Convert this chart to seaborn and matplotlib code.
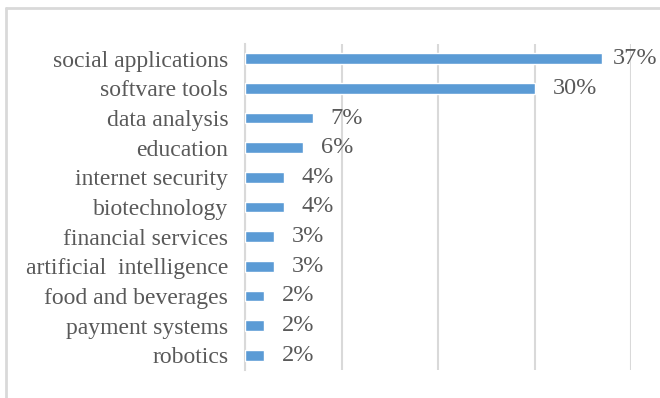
import matplotlib
matplotlib.use("Agg")
import matplotlib.pyplot as plt
import seaborn as sns
import pandas as pd
from matplotlib.lines import Line2D
from matplotlib.transforms import offset_copy

categories = ["social applications", "softvare tools", "data analysis", "education",
              "internet security", "biotechnology", "financial services",
              "artificial  intelligence", "food and beverages", "payment systems", "robotics"]
values = [37, 30, 7, 6, 4, 4, 3, 3, 2, 2, 2]
labels = ["37%", "30%", "7%", "6%", "4%", "4%", "3%", "3%", "2%", "2%", "2%"]

df = pd.DataFrame({"category": categories, "value": values})

sns.set_style("white")
plt.rcParams['font.family'] = ['Liberation Serif', 'DejaVu Serif']

fig = plt.figure(figsize=(6.6, 3.98), dpi=100)
ax = fig.add_axes([245/660, 1-370/398, (631-245)/660, (370-44)/398])

sns.barplot(data=df, y="category", x="value", orient="h", color="#5b9bd5",
            width=0.36, saturation=1, ax=ax, zorder=3)

ax.set_xlim(0, 40)
ax.set_xticks([0, 10, 20, 30, 40])
ax.set_xticklabels([])
ax.grid(axis="x", color="#d9d9d9", linewidth=1.5, zorder=0)
ax.tick_params(axis="both", length=0)
ax.tick_params(axis="y", labelsize=17, labelcolor="#595959", pad=12)
for s in ["top", "right", "bottom"]:
    ax.spines[s].set_visible(False)
ax.spines["left"].set_color("#d9d9d9")
ax.spines["left"].set_linewidth(1.5)
ax.set_xlabel("")
ax.set_ylabel("")

renderer = fig.canvas.get_renderer()
texts = []
for i, (v, lab) in enumerate(zip(values, labels)):
    t = ax.text(v, i, lab, va="center", ha="left", fontsize=17.5, color="#595959",
                transform=offset_copy(ax.transData, fig=fig, x=13, y=0, units="points"))
    texts.append(t)

# keep labels inside the chart area (shift left if they overflow the right edge)
fig_w_px = fig.get_figwidth() * fig.dpi
for t, v, i in zip(texts, values, range(len(values))):
    bb = t.get_window_extent(renderer)
    over = bb.x1 - (fig_w_px - 3)
    if over > 0:
        t.set_transform(offset_copy(ax.transData, fig=fig, x=13 - over * 72 / fig.dpi, y=0, units="points"))

# outer chart border
fig.add_artist(Line2D([6/660, 6/660], [0, 1-8/398], transform=fig.transFigure, color="#d9d9d9", lw=2))
fig.add_artist(Line2D([6/660, 1], [1-8/398, 1-8/398], transform=fig.transFigure, color="#d9d9d9", lw=2))

fig.savefig("out.png", dpi=100)
